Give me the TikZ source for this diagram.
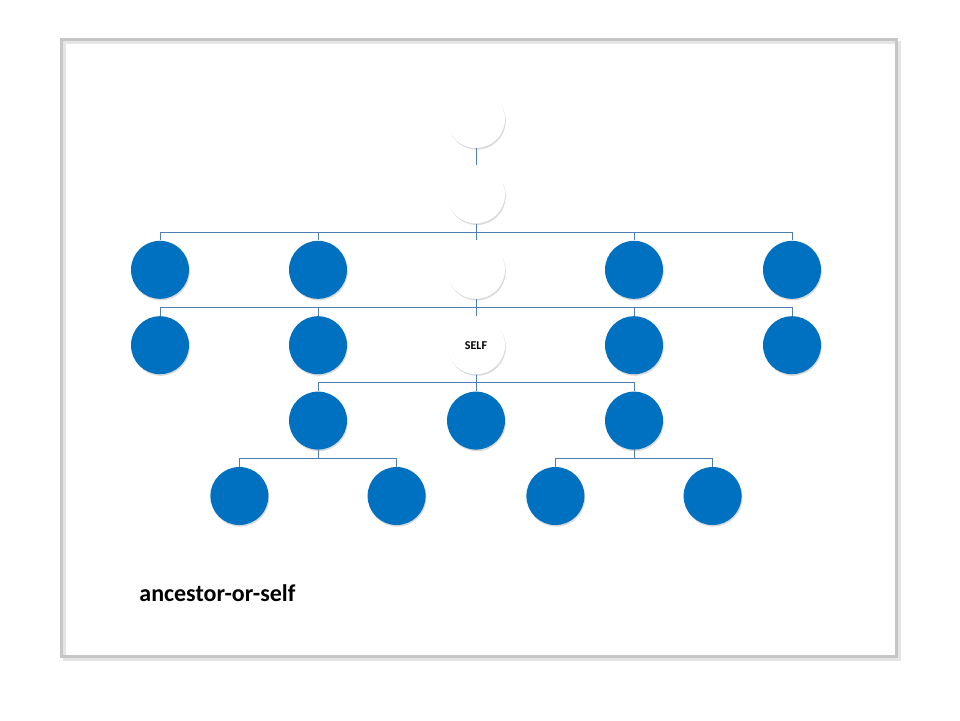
\documentclass[tikz,border=0pt]{standalone}
\usepackage{fontspec}
\setmainfont{Carlito}
\usepackage{tikz}
\usetikzlibrary{positioning, calc, shadows}

\begin{document}
\begin{tikzpicture}[
        x=0.5pt, y=-0.5pt,
        node distance=8.3pt and 49.6pt,
        kin/.style={circle, draw=none, fill=kinblue, minimum size=29pt, inner sep=0pt,
            drop shadow={opacity=0.3, shadow xshift=0.4pt, shadow yshift=-0.8pt}},
        anc/.style={kin, fill=white},
        link/.style={draw=linkblue, line width=0.5pt},
        frame/.style={draw=gray!45, line width=1.5pt}
    ]
    \definecolor{kinblue}{HTML}{0070C0}
    \definecolor{linkblue}{HTML}{4F7DB5}
    \useasboundingbox (0,0) rectangle (960,720);

    % Rahmen
    \draw[draw=gray!20, line width=1.5pt] (64,42) rectangle (899,659);
    \draw[frame] (61.5,39.5) rectangle (896.5,656.5);

    % Vorfahren
    \node[anc] (a1) at (476,119) {};
    \node[anc, below=of a1] (a2) {};

    % dritte Ebene
    \node[anc, below=of a2] (c3) {};
    \node[kin, left=of c3] (c2) {};
    \node[kin, left=of c2] (c1) {};
    \node[kin, right=of c3] (c4) {};
    \node[kin, right=of c4] (c5) {};

    % vierte Ebene
    \node[anc, below=of c3, font=\bfseries\fontsize{6}{7}\selectfont] (self) {SELF};
    \node[kin, left=of self] (d2) {};
    \node[kin, left=of d2] (d1) {};
    \node[kin, right=of self] (d4) {};
    \node[kin, right=of d4] (d5) {};

    % Kinder
    \node[kin, below=of self] (e2) {};
    \node[kin, left=of e2] (e1) {};
    \node[kin, right=of e2] (e3) {};

    % Enkel
    \node[kin, below=of e1, xshift=-39.3pt] (f1) {};
    \node[kin, below=of e1, xshift=39.3pt] (f2) {};
    \node[kin, below=of e3, xshift=-39.3pt] (f3) {};
    \node[kin, below=of e3, xshift=39.3pt] (f4) {};

    % Sammelschienen
    \coordinate (bus1) at ($(a2.south)!.5!(c3.north)$);
    \coordinate (bus2) at ($(c3.south)!.5!(self.north)$);
    \coordinate (bus3) at ($(self.south)!.5!(e2.north)$);
    \coordinate (bus4) at ($(e1.south)!.5!(f1.north)$);
    \coordinate (bus5) at ($(e3.south)!.5!(f3.north)$);

    % Verbindungen
    \draw[link] (a1) -- (a2);
    \draw[link] (a2) -- (c3);
    \draw[link] (c1.north) |- (bus1) -| (c5.north);
    \draw[link] (c2.north) |- (bus1);
    \draw[link] (c4.north) |- (bus1);
    \draw[link] (c3) -- (self);
    \draw[link] (d1.north) |- (bus2) -| (d5.north);
    \draw[link] (d2.north) |- (bus2);
    \draw[link] (d4.north) |- (bus2);
    \draw[link] (self) -- (e2);
    \draw[link] (e1.north) |- (bus3) -| (e3.north);
    \draw[link] (e1.south) -- (e1.south |- bus4);
    \draw[link] (f1.north) |- (bus4) -| (f2.north);
    \draw[link] (e3.south) -- (e3.south |- bus5);
    \draw[link] (f3.north) |- (bus5) -| (f4.north);

    % Beschriftung
    \node[anchor=base west, inner sep=0pt, font=\bfseries\fontsize{12}{14}\selectfont] (caption) at (139,601) {ancestor-or-self};

\end{tikzpicture}
\end{document}
